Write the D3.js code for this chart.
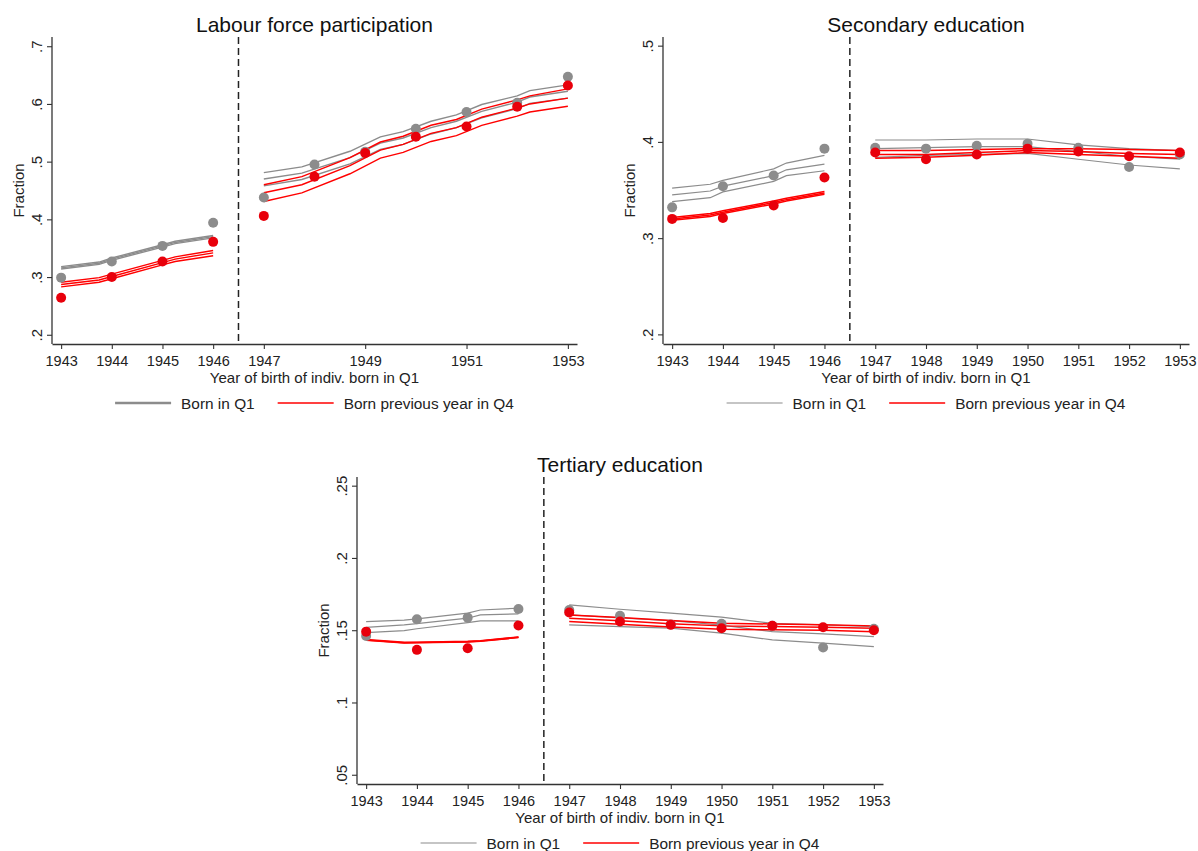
<!DOCTYPE html>
<html>
<head>
<meta charset="utf-8">
<script src="https://cdn.jsdelivr.net/npm/d3@7"></script>
<style>
  body { margin: 0; background: #fff; }
  text { font-family: "Liberation Sans", Arial, sans-serif; }
</style>
</head>
<body>
<script>
// ---- data ----
var years = [1943, 1944, 1945, 1946, 1947, 1948, 1949, 1950, 1951, 1952, 1953];
var fitYearsPre = [1943, 1943.75, 1944, 1945, 1945.25, 1946];
var fitYearsPost = [1947, 1948, 1949, 1950, 1951, 1952, 1953];
var fitYearsPostLfp = [1947, 1947.75, 1948.7, 1949.3, 1949.75, 1950.3, 1950.8, 1951.3, 1952, 1952.25, 1953];

// labour force participation
var lfpQ1 = [0.299, 0.327, 0.354, 0.394, 0.438, 0.495, 0.517, 0.557, 0.586, 0.602, 0.647];
var lfpQ4 = [0.264, 0.300, 0.327, 0.361, 0.406, 0.474, 0.515, 0.543, 0.561, 0.595, 0.632];
var lfpQ1PreFit = [0.316, 0.324, 0.331, 0.354, 0.360, 0.370];
var lfpQ1PreLo  = [0.314, 0.322, 0.329, 0.352, 0.358, 0.368];
var lfpQ1PreHi  = [0.318, 0.326, 0.333, 0.356, 0.362, 0.372];
var lfpQ4PreFit = [0.287, 0.295, 0.301, 0.325, 0.331, 0.342];
var lfpQ4PreLo  = [0.283, 0.291, 0.297, 0.321, 0.327, 0.337];
var lfpQ4PreHi  = [0.291, 0.299, 0.305, 0.329, 0.335, 0.346];
var lfpQ1PostFit = [0.470, 0.480, 0.507, 0.532, 0.541, 0.559, 0.570, 0.587, 0.603, 0.612, 0.622];
var lfpQ1PostLo  = [0.458, 0.469, 0.496, 0.521, 0.530, 0.548, 0.559, 0.576, 0.592, 0.601, 0.610];
var lfpQ1PostHi  = [0.481, 0.491, 0.518, 0.543, 0.552, 0.570, 0.581, 0.599, 0.614, 0.623, 0.633];
var lfpQ4PostFit = [0.446, 0.460, 0.493, 0.520, 0.530, 0.549, 0.559, 0.577, 0.593, 0.600, 0.610];
var lfpQ4PostLo  = [0.431, 0.446, 0.479, 0.506, 0.516, 0.535, 0.545, 0.563, 0.579, 0.586, 0.596];
var lfpQ4PostHi  = [0.460, 0.474, 0.507, 0.534, 0.544, 0.563, 0.573, 0.591, 0.607, 0.614, 0.626];

// secondary education
var secQ1 = [0.332, 0.354, 0.365, 0.393, 0.394, 0.393, 0.396, 0.398, 0.394, 0.374, 0.387];
var secQ4 = [0.320, 0.321, 0.334, 0.363, 0.389, 0.382, 0.387, 0.393, 0.390, 0.385, 0.389];
var secQ1PreFit = [0.345, 0.349, 0.354, 0.365, 0.371, 0.377];
var secQ1PreLo  = [0.338, 0.342, 0.348, 0.359, 0.365, 0.370];
var secQ1PreHi  = [0.352, 0.356, 0.360, 0.372, 0.378, 0.386];
var secQ4PreFit = [0.320, 0.324, 0.327, 0.337, 0.340, 0.347];
var secQ4PreLo  = [0.3185, 0.3225, 0.3255, 0.3355, 0.3385, 0.3455];
var secQ4PreHi  = [0.3215, 0.3255, 0.3285, 0.3385, 0.3415, 0.3485];
var secQ1PostFit = [0.393, 0.394, 0.395, 0.395, 0.390, 0.385, 0.382];
var secQ1PostLo  = [0.384, 0.386, 0.387, 0.388, 0.382, 0.376, 0.372];
var secQ1PostHi  = [0.402, 0.402, 0.403, 0.403, 0.397, 0.393, 0.391];
var secQ4PostFit = [0.387, 0.387, 0.389, 0.391, 0.390, 0.388, 0.387];
var secQ4PostLo  = [0.383, 0.384, 0.386, 0.389, 0.387, 0.385, 0.383];
var secQ4PostHi  = [0.391, 0.391, 0.392, 0.393, 0.393, 0.392, 0.391];

// tertiary education
var terQ1 = [0.146, 0.1576, 0.1587, 0.1647, 0.164, 0.160, 0.154, 0.1544, 0.153, 0.138, 0.151];
var terQ4 = [0.149, 0.1364, 0.1375, 0.1532, 0.1622, 0.156, 0.1537, 0.1514, 0.153, 0.152, 0.150];
var terQ1PreFit = [0.152, 0.1537, 0.1545, 0.1583, 0.1606, 0.1613];
var terQ1PreLo  = [0.1483, 0.1497, 0.151, 0.1553, 0.1564, 0.1564];
var terQ1PreHi  = [0.156, 0.157, 0.1578, 0.1618, 0.164, 0.1652];
var terQ4PreFit = [0.1433, 0.1414, 0.1415, 0.1421, 0.1425, 0.1451];
var terQ4PreLo  = [0.1431, 0.1412, 0.1413, 0.1419, 0.1423, 0.1449];
var terQ4PreHi  = [0.1435, 0.1416, 0.1417, 0.1423, 0.1427, 0.1453];
var terQ1PostFit = [0.1606, 0.1585, 0.1566, 0.1535, 0.149, 0.1474, 0.1456];
var terQ1PostLo  = [0.1537, 0.1525, 0.1514, 0.148, 0.1433, 0.141, 0.1386];
var terQ1PostHi  = [0.1675, 0.1645, 0.1618, 0.159, 0.1548, 0.1537, 0.1525];
var terQ4PostFit = [0.1583, 0.1565, 0.1545, 0.153, 0.1525, 0.152, 0.1514];
var terQ4PostLo  = [0.156, 0.1542, 0.1523, 0.1507, 0.1503, 0.150, 0.149];
var terQ4PostHi  = [0.1606, 0.1588, 0.1567, 0.1548, 0.1543, 0.1537, 0.153];

var legendLabels = ["Born in Q1", "Born previous year in Q4"];

var grey = "#8c8c8c";
var red = "#ff0000";
var redDot = "#e8000b";
var axisColor = "#333";

var svg = d3.select("body").append("svg")
    .attr("width", 1198)
    .attr("height", 851);

function fmtFrac(v) {
    return d3.format(".2~f")(v).replace(/^0\./, ".");
}

function zip(xs, ys) {
    return xs.map(function (d, i) { return [d, ys[i]]; });
}

function drawPanel(p) {
    var g = svg.append("g");
    var x = d3.scaleLinear().domain([1942.82, 1953.18]).range([p.left, p.right]);
    var y = d3.scaleLinear().domain(p.yDomain).range([p.bottom, p.top]);

    // title
    g.append("text")
        .attr("x", (p.left + p.right) / 2)
        .attr("y", p.top - 5)
        .attr("text-anchor", "middle")
        .attr("font-size", "21px")
        .attr("fill", "#111")
        .text(p.title);

    // y axis
    var yAxis = g.append("g")
        .attr("transform", "translate(" + p.left + ",0)")
        .call(d3.axisLeft(y).tickValues(p.yTicks).tickSize(5).tickSizeOuter(0).tickFormat(fmtFrac));
    yAxis.select(".domain").attr("stroke", axisColor).attr("stroke-width", 1.3)
        .attr("d", "M0," + p.top + "V" + p.bottom);
    yAxis.selectAll(".tick line").attr("stroke", axisColor).attr("stroke-width", 1.1);
    yAxis.selectAll(".tick text")
        .attr("transform", "rotate(-90)")
        .attr("text-anchor", "middle")
        .attr("x", 0).attr("y", -10).attr("dy", 0)
        .attr("font-size", "15px")
        .attr("fill", "#222");

    // x axis
    var xAxis = g.append("g")
        .attr("transform", "translate(0," + p.bottom + ")")
        .call(d3.axisBottom(x).tickValues(p.xTicks).tickSize(5).tickSizeOuter(0).tickPadding(7).tickFormat(d3.format("d")));
    xAxis.select(".domain").attr("stroke", axisColor).attr("stroke-width", 1.3);
    xAxis.selectAll(".tick line").attr("stroke", axisColor).attr("stroke-width", 1.1);
    xAxis.selectAll(".tick text").attr("font-size", "14.5px").attr("fill", "#222");

    // axis titles
    g.append("text")
        .attr("transform", "translate(" + (p.left - 28) + "," + ((p.top + p.bottom) / 2) + ") rotate(-90)")
        .attr("text-anchor", "middle")
        .attr("font-size", "15px")
        .attr("fill", "#222")
        .text("Fraction");
    g.append("text")
        .attr("x", (p.left + p.right) / 2)
        .attr("y", p.bottom + 39)
        .attr("text-anchor", "middle")
        .attr("font-size", "15px")
        .attr("fill", "#222")
        .text("Year of birth of indiv. born in Q1");

    // cutoff
    g.append("line")
        .attr("x1", x(1946.5)).attr("x2", x(1946.5))
        .attr("y1", p.top).attr("y2", p.bottom)
        .attr("stroke", "#222")
        .attr("stroke-width", 1.5)
        .attr("stroke-dasharray", "7,4");

    var line = d3.line()
        .x(function (d) { return x(d[0]); })
        .y(function (d) { return y(d[1]); });

    p.fits.forEach(function (f) {
        g.append("path")
            .datum(zip(f.xs, f.ys))
            .attr("d", line)
            .attr("fill", "none")
            .attr("stroke", f.color)
            .attr("stroke-width", f.width || 1.4);
    });

    // points
    [[p.q1, grey], [p.q4, redDot]].forEach(function (s) {
        g.selectAll(null)
            .data(zip(years, s[0]))
            .enter()
            .append("circle")
            .attr("cx", function (d) { return x(d[0]); })
            .attr("cy", function (d) { return y(d[1]); })
            .attr("r", 5)
            .attr("fill", s[1]);
    });

    // legend
    var leg = g.append("g");
    var ly = p.bottom + 59;
    var item1 = leg.append("g");
    item1.append("line").attr("x1", 0).attr("x2", 56).attr("y1", ly).attr("y2", ly)
        .attr("stroke", grey).attr("stroke-width", p.legendGreyWidth);
    var t1 = item1.append("text").attr("x", 66).attr("y", ly + 5.5)
        .attr("font-size", "15.4px").attr("fill", "#222").text(legendLabels[0]);
    var off2 = 66 + t1.node().getComputedTextLength() + 23;
    var item2 = leg.append("g").attr("transform", "translate(" + off2 + ",0)");
    item2.append("line").attr("x1", 0).attr("x2", 56).attr("y1", ly).attr("y2", ly)
        .attr("stroke", red).attr("stroke-width", 1.5);
    var t2 = item2.append("text").attr("x", 66).attr("y", ly + 5.5)
        .attr("font-size", "15.4px").attr("fill", "#222").text(legendLabels[1]);
    var total = off2 + 66 + t2.node().getComputedTextLength();
    leg.attr("transform", "translate(" + ((p.left + p.right) / 2 - total / 2) + ",0)");
}

function fitSet(preX, postX, pre1, pre4, post1, post4, greyW, redW) {
    var out = [];
    pre1.forEach(function (ys) { out.push({xs: preX, ys: ys, color: grey, width: greyW}); });
    post1.forEach(function (ys) { out.push({xs: postX, ys: ys, color: grey, width: greyW}); });
    pre4.forEach(function (ys) { out.push({xs: preX, ys: ys, color: red, width: redW}); });
    post4.forEach(function (ys) { out.push({xs: postX, ys: ys, color: red, width: redW}); });
    return out;
}

drawPanel({
    title: "Labour force participation",
    left: 52, right: 577, top: 37, bottom: 344,
    yDomain: [0.184, 0.716],
    yTicks: [0.2, 0.3, 0.4, 0.5, 0.6, 0.7],
    xTicks: [1943, 1944, 1945, 1946, 1947, 1949, 1951, 1953],
    q1: lfpQ1, q4: lfpQ4,
    legendGreyWidth: 2.6,
    fits: fitSet(fitYearsPre, fitYearsPostLfp,
                 [lfpQ1PreLo, lfpQ1PreFit, lfpQ1PreHi], [lfpQ4PreLo, lfpQ4PreFit, lfpQ4PreHi],
                 [lfpQ1PostLo, lfpQ1PostFit, lfpQ1PostHi], [lfpQ4PostLo, lfpQ4PostFit, lfpQ4PostHi], 1.4, 1.4)
});

drawPanel({
    title: "Secondary education",
    left: 663, right: 1189, top: 37, bottom: 344,
    yDomain: [0.190, 0.509],
    yTicks: [0.2, 0.3, 0.4, 0.5],
    xTicks: years,
    q1: secQ1, q4: secQ4,
    legendGreyWidth: 1.2,
    fits: fitSet(fitYearsPre, fitYearsPost,
                 [secQ1PreLo, secQ1PreFit, secQ1PreHi], [secQ4PreLo, secQ4PreFit, secQ4PreHi],
                 [secQ1PostLo, secQ1PostFit, secQ1PostHi], [secQ4PostLo, secQ4PostFit, secQ4PostHi], 1.2, 1.5)
});

drawPanel({
    title: "Tertiary education",
    left: 357, right: 883, top: 477, bottom: 784,
    yDomain: [0.0436, 0.256],
    yTicks: [0.05, 0.1, 0.15, 0.2, 0.25],
    xTicks: years,
    q1: terQ1, q4: terQ4,
    legendGreyWidth: 1.2,
    fits: fitSet(fitYearsPre, fitYearsPost,
                 [terQ1PreLo, terQ1PreFit, terQ1PreHi], [terQ4PreLo, terQ4PreFit, terQ4PreHi],
                 [terQ1PostLo, terQ1PostFit, terQ1PostHi], [terQ4PostLo, terQ4PostFit, terQ4PostHi], 1.2, 1.5)
});
</script>
</body>
</html>
